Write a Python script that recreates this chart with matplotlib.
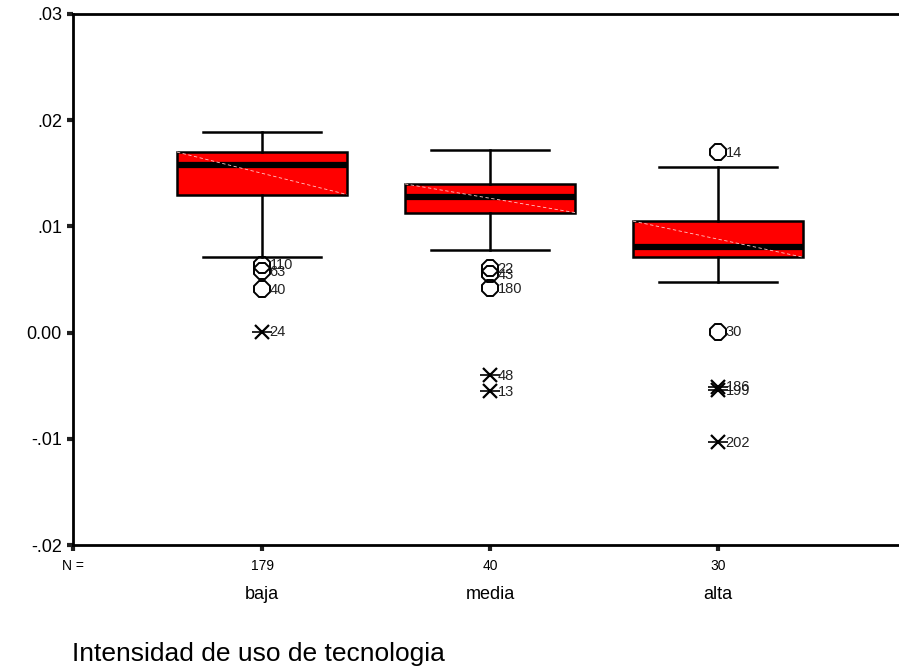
import matplotlib.pyplot as plt
import numpy as np

plt.rcParams['font.family'] = ['Liberation Sans', 'DejaVu Sans']

# Data
categories = ['baja', 'media', 'alta']
n_counts = [179, 40, 30]
q1 = [0.0130, 0.0113, 0.0071]
med = [0.0158, 0.0128, 0.0081]
q3 = [0.0170, 0.0140, 0.0105]
whis_lo = [0.0071, 0.0078, 0.0048]
whis_hi = [0.0189, 0.0172, 0.0156]

# outliers: (group index, value, case label, kind)  'o' = outlier, '*' = extreme
out_group = [0, 0, 0, 0, 1, 1, 1, 1, 1, 2, 2, 2, 2, 2]
out_value = [0.0064, 0.0058, 0.0041, 0.0001, 0.0061, 0.0055, 0.0042,
             -0.0040, -0.0055, 0.0170, 0.0001, -0.0051, -0.0054, -0.0103]
out_label = ['110', '63', '40', '24', '22', '43', '180', '48', '13',
             '14', '30', '186', '199', '202']
out_kind = ['o', 'o', 'o', '*', 'o', 'o', 'o', '*', '*', 'o', 'o', '*', '*', '*']

yticks = [-0.02, -0.01, 0.0, 0.01, 0.02, 0.03]
ytick_labels = ['-.02', '-.01', '0.00', '.01', '.02', '.03']

fig = plt.figure(figsize=(8.99, 6.69), dpi=100)
ax = fig.add_axes([73 / 899, (669 - 545) / 669, 826 / 899, 531 / 669])

pos = np.arange(1, len(categories) + 1)
stats = []
for i in range(len(categories)):
    stats.append(dict(med=med[i], q1=q1[i], q3=q3[i], whislo=whis_lo[i],
                      whishi=whis_hi[i], fliers=[], label=categories[i]))

ax.bxp(stats, positions=pos, widths=0.746, patch_artist=True,
       showfliers=False,
       boxprops=dict(facecolor='#ff0000', edgecolor='black', linewidth=1.8),
       medianprops=dict(color='black', linewidth=4.5),
       whiskerprops=dict(color='black', linewidth=1.8),
       capprops=dict(color='black', linewidth=1.8),
       capwidths=0.52)

# faint diagonal streak inside each box
for i, p in enumerate(pos):
    ax.plot([p - 0.373, p + 0.373], [q3[i], q1[i]], color='#ffc8c8',
            lw=0.6, ls=(0, (4, 3)), zorder=3)

for g, v, lab, k in zip(out_group, out_value, out_label, out_kind):
    x = pos[g]
    if k == 'o':
        ax.plot(x, v, marker='8', ms=13, mfc='none', mec='black', mew=1.4,
                ls='none', zorder=4)
    else:
        ax.plot(x, v, marker='x', ms=10, mec='black', mew=1.6, ls='none', zorder=4)
        ax.plot(x, v, marker='_', ms=14, mec='black', mew=1.2, ls='none', zorder=4)
    ax.annotate(lab, (x, v), xytext=(5.5, -0.5), textcoords='offset points',
                va='center', ha='left', fontsize=10.5, color='#222222', zorder=5)

ax.set_ylim(-0.02, 0.03)
ax.set_xlim(1 - 189 / 228, 3 + 181 / 228)
ax.set_yticks(yticks)
ax.set_yticklabels(ytick_labels, fontsize=13)

ax.set_xticks([ax.get_xlim()[0]] + list(pos))
ax.set_xticklabels(['N ='] + [str(n) for n in n_counts], fontsize=10)
ax.tick_params(axis='both', length=4, width=3, color='#222222', direction='out', pad=4)
ax.tick_params(axis='x', pad=6)

for s in ['left', 'top', 'bottom']:
    ax.spines[s].set_linewidth(2)
    ax.spines[s].set_color('black')
ax.spines['right'].set_visible(False)

for p, c in zip(pos, categories):
    ax.text(p, -0.02 - 0.0047, c, ha='center', va='center', fontsize=13,
            transform=ax.transData, clip_on=False)

fig.text(72 / 899, 1 - 654 / 669, 'Intensidad de uso de tecnologia',
         fontsize=19, ha='left', va='center')

fig.savefig('out.png', dpi=100)
